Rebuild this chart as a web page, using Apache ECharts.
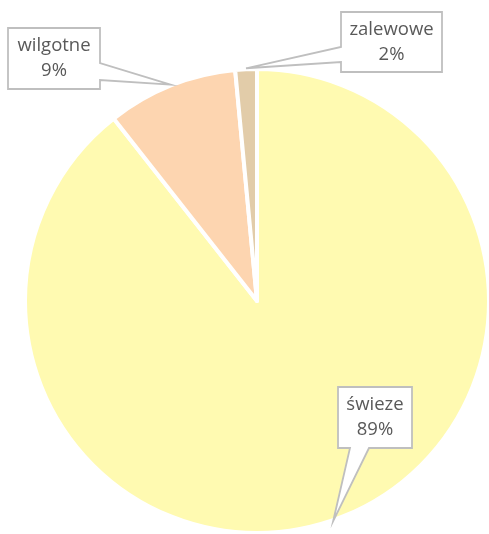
<!DOCTYPE html>
<html>
<head>
<meta charset="utf-8">
<script src="https://cdn.jsdelivr.net/npm/echarts@6/dist/echarts.min.js"></script>
<style>
  html, body { margin: 0; padding: 0; background: #ffffff; }
  #chart { width: 489px; height: 534px; }
</style>
</head>
<body>
<div id="chart"></div>
<script>
// dane wykresu
const categories = ['świeze', 'wilgotne', 'zalewowe'];
const values = [89.4, 9.1, 1.5];
const colors = ['#FFFAB1', '#FDD5B0', '#E2CCA9'];

// ramki etykiet: srodek x, srodek y, szerokosc, wysokosc, bok z dziobkiem, poczatek i koniec dziobka
const callouts = [
  { cx: 375, cy: 417.5, w: 74, h: 61, side: 'bottom', a: 12, b: 31 },
  { cx: 54, cy: 58.5, w: 92, h: 61, side: 'right', a: 35, b: 52 },
  { cx: 391.5, cy: 42, w: 101, h: 60, side: 'left', a: 35, b: 50 }
];

const chart = echarts.init(document.getElementById('chart'), null, { renderer: 'canvas' });

const pieCenter = [257, 301];
const pieRadius = 232;

let data = categories.map((name, i) => ({
  name: name,
  value: values[i],
  itemStyle: { color: colors[i] }
}));

const option = {
  backgroundColor: '#ffffff',
  animation: false,
  series: [{
    type: 'pie',
    z: 1,
    center: pieCenter,
    radius: [0, pieRadius],
    startAngle: 90,
    clockwise: true,
    silent: true,
    itemStyle: {
      borderColor: '#ffffff',
      borderWidth: 4
    },
    label: { show: false },
    labelLine: { show: false },
    data: data
  }, {
    // seria tylko z etykietami, nad ramkami
    type: 'pie',
    z: 5,
    center: pieCenter,
    radius: [0, pieRadius],
    startAngle: 90,
    clockwise: true,
    silent: true,
    itemStyle: { color: 'rgba(0,0,0,0)', borderWidth: 0 },
    label: {
      show: true,
      formatter: p => p.name + '\n' + Math.round(p.percent) + '%',
      fontFamily: 'Open Sans',
      fontSize: 18.5,
      lineHeight: 25,
      color: '#595959',
      align: 'center',
      overflow: 'none'
    },
    labelLine: { show: false },
    labelLayout: params => ({
      x: callouts[params.dataIndex].cx,
      y: callouts[params.dataIndex].cy,
      align: 'center',
      verticalAlign: 'middle',
      moveOverlap: false
    }),
    data: categories.map((name, i) => ({ name: name, value: values[i] }))
  }]
};

chart.setOption(option);

// ramki z dziobkiem wskazujacym na luk wycinka
function calloutPoints(c, tip) {
  const x0 = c.cx - c.w / 2, x1 = c.cx + c.w / 2;
  const y0 = c.cy - c.h / 2, y1 = c.cy + c.h / 2;
  if (c.side === 'right') {
    return [[x0, y0], [x1, y0], [x1, y0 + c.a], tip, [x1, y0 + c.b], [x1, y1], [x0, y1]];
  } else if (c.side === 'left') {
    return [[x0, y0], [x1, y0], [x1, y1], [x0, y1], [x0, y0 + c.b], tip, [x0, y0 + c.a]];
  }
  return [[x0, y0], [x1, y0], [x1, y1], [x0 + c.b, y1], tip, [x0 + c.a, y1], [x0, y1]];
}

const pieData = chart.getModel().getSeriesByIndex(0).getData();
const shapes = callouts.map((c, i) => {
  const l = pieData.getItemLayout(i);
  const mid = (l.startAngle + l.endAngle) / 2;
  const tip = [l.cx + (l.r + 1) * Math.cos(mid), l.cy + (l.r + 1) * Math.sin(mid)];
  return {
    type: 'polygon',
    z: 3,
    silent: true,
    shape: { points: calloutPoints(c, tip) },
    style: { fill: '#ffffff', stroke: '#BFBFBF', lineWidth: 1.8, lineJoin: 'miter' }
  };
});

chart.setOption({ graphic: shapes });
</script>
</body>
</html>
